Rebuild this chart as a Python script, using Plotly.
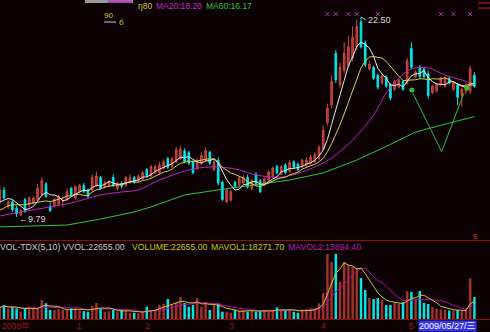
import plotly.graph_objects as go
import pandas as pd
import numpy as np

# ---------------- data ----------------
opens = [10.74, 11.51, 10.45, 10.75, 10.35, 9.92, 10.9, 10.55, 10.7, 10.9,
         11.2, 11.9, 10.45, 10.5, 10.6, 10.8, 10.9, 11.6, 11.0, 11.4,
         11.8, 11.5, 11.5, 11.8, 12.3, 11.7, 11.8, 12.3, 11.6, 11.9,
         11.8, 12.0, 12.3, 12.1, 12.2, 12.8, 12.4, 12.6, 12.6, 12.9,
         13.5, 13.0, 13.3, 13.5, 14.0, 13.9, 13.3, 12.9, 13.2, 13.4,
         13.9, 12.8, 13.4, 12.0, 10.75, 10.85, 12.0, 11.8, 11.95, 12.3,
         11.6, 12.5, 12.1, 11.85, 12.15, 12.35, 13.0, 12.5, 13.1, 12.7,
         13.3, 13.15, 13.0, 13.05, 13.2, 13.3, 13.5, 14.1, 15.8, 16.9,
         20.2, 18.2, 19.1, 19.4, 19.9, 20.6, 22.2, 20.85, 19.2, 19.3,
         18.8, 18.3, 18.7, 18.2, 17.9, 18.05, 18.4, 18.3, 20.5, 18.7,
         19.3, 19.2, 18.9, 17.7, 17.8, 18.2, 18.1, 18.6, 17.9, 18.2,
         17.5, 17.8, 17.8, 18.8]
highs = [11.8, 11.7, 10.9, 10.9, 10.5, 10.3, 11.0, 11.1, 11.1, 11.9,
         12.3, 12.0, 10.7, 11.0, 11.2, 11.1, 11.6, 11.7, 11.8, 11.9,
         11.95, 11.6, 12.5, 12.7, 12.4, 12.1, 12.15, 12.5, 12.0, 12.05,
         12.4, 12.5, 12.4, 12.5, 12.75, 12.9, 13.1, 13.1, 13.3, 13.45,
         13.6, 13.6, 14.25, 14.3, 14.15, 14.0, 13.4, 13.5, 13.9, 14.2,
         14.0, 13.5, 13.6, 12.1, 11.6, 11.5, 12.1, 12.35, 12.45, 12.5,
         12.2, 12.65, 12.2, 12.3, 12.75, 13.0, 13.1, 13.05, 13.2, 13.4,
         13.4, 13.25, 13.5, 13.6, 13.75, 13.9, 14.35, 15.6, 17.0, 18.8,
         20.4, 19.6, 20.9, 21.3, 21.9, 22.35, 22.50, 21.0, 19.7, 19.4,
         18.9, 18.9, 18.8, 18.3, 18.5, 18.6, 18.5, 19.9, 20.9, 19.1,
         19.45, 19.3, 19.1, 18.2, 18.3, 18.7, 18.75, 18.7, 18.4, 18.3,
         18.0, 18.3, 19.4, 19.0]
lows = [10.6, 10.9, 10.3, 10.1, 9.79, 9.85, 10.05, 10.4, 10.6, 10.8,
        11.1, 11.0, 10.1, 10.4, 10.5, 10.4, 10.8, 11.1, 10.9, 11.3,
        11.3, 11.0, 11.4, 11.7, 11.5, 11.6, 11.7, 11.7, 11.5, 11.6,
        11.7, 11.9, 11.9, 12.0, 12.1, 12.3, 12.3, 12.5, 12.5, 12.8,
        12.85, 12.9, 13.2, 13.4, 13.2, 13.1, 12.5, 12.8, 13.1, 13.3,
        13.1, 12.7, 11.8, 10.8, 10.7, 10.8, 11.6, 11.7, 11.85, 11.6,
        11.5, 11.8, 11.3, 11.75, 12.05, 12.3, 12.5, 12.45, 12.5, 12.6,
        12.85, 12.7, 12.9, 13.0, 13.1, 13.2, 13.4, 14.0, 15.6, 16.7,
        18.3, 18.0, 18.9, 19.3, 19.7, 20.4, 20.5, 19.3, 19.1, 18.5,
        17.9, 18.2, 18.0, 17.2, 17.8, 17.95, 17.8, 18.2, 19.2, 18.6,
        18.6, 18.6, 17.3, 17.6, 17.7, 18.1, 18.0, 18.2, 17.8, 16.9,
        16.8, 17.6, 17.6, 18.0]
closes = [11.51, 11.0, 10.74, 10.25, 9.98, 10.2, 10.15, 11.0, 11.0, 11.6,
          12.1, 11.1, 10.2, 10.9, 11.1, 10.82, 11.4, 11.2, 11.7, 11.8,
          11.4, 11.1, 12.3, 12.4, 11.6, 11.95, 12.0, 11.8, 11.95, 11.75,
          12.3, 12.3, 12.0, 12.4, 12.6, 12.4, 13.0, 13.0, 13.1, 13.3,
          12.95, 13.5, 14.05, 14.1, 13.3, 13.2, 12.6, 13.3, 13.7, 14.0,
          13.2, 13.3, 11.95, 10.9, 11.5, 11.4, 11.75, 12.25, 12.3, 11.7,
          12.1, 11.9, 11.4, 12.2, 12.65, 12.9, 12.6, 13.0, 12.6, 13.25,
          12.95, 12.8, 13.4, 13.4, 13.6, 13.75, 14.2, 15.3, 16.7, 18.4,
          18.5, 19.3, 20.2, 20.6, 21.2, 21.9, 20.6, 19.45, 19.5, 18.6,
          18.05, 18.8, 18.1, 17.35, 18.4, 18.5, 17.9, 19.7, 19.3, 19.0,
          18.7, 18.7, 17.5, 18.1, 18.2, 18.6, 18.6, 18.3, 18.3, 17.4,
          17.9, 18.2, 19.2, 18.1]
pre_closes = [9.4, 9.6, 9.5, 9.9, 10.1, 10.4, 10.2, 10.6, 11.0]
volumes = [12000, 14400, 11000, 12700, 11000, 7500, 11000, 12700, 11000, 11000,
           19500, 16200, 9300, 9300, 10000, 9300, 9300, 11000, 11000, 9300,
           8200, 7500, 13400, 16500, 11000, 7500, 8200, 9300, 7500, 9300,
           9300, 6500, 6500, 5900, 7500, 12700, 9300, 9300, 14400, 15500,
           20600, 14400, 16800, 22700, 16500, 12700, 14400, 21600, 12700, 17500,
           9300, 14400, 16000, 7500, 7500, 6500, 9300, 8500, 9300, 7500,
           8500, 7500, 8200, 9300, 7500, 9300, 12000, 9300, 9300, 9300,
           7500, 6500, 9300, 10000, 11000, 11000, 16000, 26800, 67000, 58700,
           67000, 38100, 58700, 55600, 53600, 52500, 42200, 29900, 21600, 20600,
           21600, 19600, 14400, 14400, 16500, 15500, 17500, 28800, 27800, 19600,
           28800, 16500, 15500, 12400, 10800, 9800, 9500, 8800, 8685, 9300,
           8200, 9300, 41904, 22655]

ma20_idx = [0, 5, 12, 17, 24, 29, 33, 38, 46, 52, 57, 61, 67, 72, 76, 79,
            84, 89, 92, 95, 98, 102, 106, 110, 113]
ma20_val = [9.85, 10.11, 10.43, 10.68, 11.19, 11.38, 11.51, 12.14, 12.84, 12.97,
            12.78, 12.46, 12.33, 12.65, 13.09, 13.54, 14.68, 16.27, 17.67, 18.62,
            19.20, 19.26, 18.81, 18.50, 18.20]
ma60_idx = [0, 16, 24, 32, 36, 44, 52, 60, 69, 77, 85, 93, 99, 107, 113]
ma60_val = [9.16, 9.28, 9.66, 10.11, 10.43, 11.19, 11.51, 11.82, 12.14, 12.59,
            13.41, 14.40, 15.19, 15.76, 16.17]

zig_idx = [98.3, 105.2, 110.5]
zig_val = [17.69, 13.94, 17.65]
blob_idx = [98.1, 111.2]
blob_val = [17.86, 17.99]
signal_idx = [78, 80, 83, 85, 90, 105, 108, 112]
month_idx = [18, 34, 54, 76, 97]
month_txt = ["1", "2", "3", "4", "5"]

# ---------------- derived ----------------
n = len(closes)
idx = list(range(n))
s = pd.Series(pre_closes + closes)
ma5 = s.rolling(5, min_periods=1).mean().iloc[len(pre_closes):].tolist()
ma10 = s.rolling(10, min_periods=1).mean().iloc[len(pre_closes):].tolist()
v = pd.Series(volumes)
mavol1 = v.rolling(5, min_periods=1).mean().tolist()
mavol2 = v.rolling(10, min_periods=1).mean().tolist()

RED_LINE = "#cc4a40"
RED_FILL = "#a0302a"
CYAN = "#00e6e6"
BG = "#0b0103"
FONT = "Liberation Sans, Arial, sans-serif"

W, H = 490, 332
x_rng = [(0 + 0.2) / 4.2, (W + 0.2) / 4.2]
y_rng = [8.328, 23.580]
v_top = 78280


def px(xp):
    return xp / W


def py(yp):
    return 1 - yp / H


vol_colors = [RED_FILL if c >= o else CYAN for o, c in zip(opens, closes)]

fig = go.Figure()
fig.add_trace(go.Candlestick(
    x=idx, open=opens, high=highs, low=lows, close=closes,
    increasing=dict(line=dict(color=RED_LINE, width=1), fillcolor=RED_FILL),
    decreasing=dict(line=dict(color=CYAN, width=1), fillcolor=CYAN),
    whiskerwidth=0, hoverinfo="skip", showlegend=False, xaxis="x", yaxis="y"))

line_kw = dict(mode="lines", hoverinfo="skip", showlegend=False, xaxis="x", yaxis="y")
fig.add_trace(go.Scatter(x=ma60_idx, y=ma60_val, line=dict(color="#2ec82e", width=1), **line_kw))
fig.add_trace(go.Scatter(x=ma20_idx, y=ma20_val, line=dict(color="#c020c8", width=1, shape="spline"), **line_kw))
fig.add_trace(go.Scatter(x=idx, y=ma10, line=dict(color="#d8d040", width=1), **line_kw))
fig.add_trace(go.Scatter(x=idx, y=ma5, line=dict(color="#e8e8e8", width=1), **line_kw))
fig.add_trace(go.Scatter(x=zig_idx, y=zig_val, line=dict(color="#30c030", width=1), **line_kw))
fig.add_trace(go.Scatter(x=blob_idx, y=blob_val, mode="markers",
                         marker=dict(color="#30c030", size=5), hoverinfo="skip",
                         showlegend=False, xaxis="x", yaxis="y"))
sig_level = y_rng[1] - (y_rng[1] - y_rng[0]) * 14 / 240
fig.add_trace(go.Scatter(x=signal_idx, y=[sig_level] * len(signal_idx), mode="markers",
                         marker=dict(symbol="x-thin-open", size=4, color="#a838b0",
                                     line=dict(color="#a838b0", width=1)),
                         hoverinfo="skip", showlegend=False, xaxis="x", yaxis="y"))

# volume panel
fig.add_trace(go.Bar(x=idx, y=volumes, marker=dict(color=vol_colors, line=dict(width=0)),
                     hoverinfo="skip", showlegend=False, xaxis="x2", yaxis="y2"))
fig.add_trace(go.Scatter(x=idx, y=mavol2, mode="lines", line=dict(color="#c000c0", width=1),
                         hoverinfo="skip", showlegend=False, xaxis="x2", yaxis="y2"))
fig.add_trace(go.Scatter(x=idx, y=mavol1, mode="lines", line=dict(color="#c8c830", width=1),
                         hoverinfo="skip", showlegend=False, xaxis="x2", yaxis="y2"))

ann = []


def txt(x, y, t, color, size=9, xanchor="left", yanchor="middle", **kw):
    d = dict(x=x, y=y, xref="paper", yref="paper", text=t, showarrow=False,
             xanchor=xanchor, yanchor=yanchor,
             font=dict(family=FONT, size=size, color=color))
    d.update(kw)
    ann.append(d)


# top header
txt(px(136), py(6), "ŋ80", "#d0c830", 8.5)
txt(px(154), py(6), "MA20:18.20", "#c030c8", 8.5)
txt(px(204), py(6), "MA60:16.17", "#30c030", 8.5)
txt(px(102), py(15), "90", "#d0c830", 8)
txt(px(117), py(22), "б", "#d0c830", 8)

# volume header
txt(px(-2), py(246.5), "VOL-TDX(5,10) VVOL:22655.00", "#c8c8c8", 8.7)
txt(px(130), py(246.5), "VOLUME:22655.00", "#c8c800", 8.7)
txt(px(209), py(246.5), "MAVOL1:18271.70", "#c8c800", 8.7)
txt(px(286), py(246.5), "MAVOL2:13894.40", "#b020b8", 8.7)
txt(px(471), py(236), "$", "#c03030", 8)

# bottom axis
txt(px(0), py(326), "2008年", "#a01818", 8.5)
for mi, mt in zip(month_idx, month_txt):
    ann.append(dict(x=mi, y=py(326), xref="x2", yref="paper", text=mt, showarrow=False,
                    xanchor="left", yanchor="middle",
                    font=dict(family=FONT, size=8.5, color="#a01818")))
ann.append(dict(x=px(418), y=py(332), xref="paper", yref="paper", text="2009/05/27/三",
                showarrow=False, xanchor="left", yanchor="bottom", bgcolor="#3434f0",
                borderpad=0,
                font=dict(family="Liberation Sans, Noto Sans CJK SC, sans-serif", size=9,
                          color="#ffffff")))

# high / low labels
jmax = int(np.argmax(highs))
jmin = int(np.argmin(lows))
ann.append(dict(x=jmax, y=highs[jmax], xref="x", yref="y", text=f"{highs[jmax]:.2f}",
                showarrow=True, arrowhead=0, arrowwidth=1, arrowcolor="#c0c0c0",
                ax=5, ay=3, xanchor="left", yanchor="middle", standoff=0,
                font=dict(family=FONT, size=9, color="#d8d8d8")))
ann.append(dict(x=jmin, y=lows[jmin], xref="x", yref="y", text=f"←{lows[jmin]:.2f}",
                showarrow=False, xanchor="left", yanchor="middle", yshift=-2,
                font=dict(family=FONT, size=9, color="#d8d8d8")))

shapes = [
    dict(type="line", xref="paper", yref="paper", x0=0, x1=1, y0=py(240.5), y1=py(240.5),
         line=dict(color="#900e0e", width=1)),
    dict(type="line", xref="paper", yref="paper", x0=0, x1=1, y0=py(319.5), y1=py(319.5),
         line=dict(color="#900e0e", width=1)),
    dict(type="rect", xref="paper", yref="paper", x0=px(85), x1=px(133), y0=py(3), y1=py(0),
         fillcolor="#9a9a9a", line=dict(width=0)),
    dict(type="rect", xref="paper", yref="paper", x0=px(108), x1=px(132), y0=py(3), y1=py(0.5),
         fillcolor="#b040b0", line=dict(width=0)),
    dict(type="line", xref="paper", yref="paper", x0=px(104), x1=px(116), y0=py(22), y1=py(22),
         line=dict(color="#c8c8c8", width=1)),
    dict(type="line", xref="paper", yref="paper", x0=px(478), x1=1, y0=py(3), y1=py(3),
         line=dict(color="#c02020", width=1)),
    dict(type="line", xref="paper", yref="paper", x0=px(478), x1=1, y0=py(8), y1=py(8),
         line=dict(color="#c02020", width=1)),
]

fig.update_layout(
    width=W, height=H, margin=dict(l=0, r=0, t=0, b=0, pad=0),
    paper_bgcolor=BG, plot_bgcolor=BG, showlegend=False,
    bargap=0.4, boxgap=0.45,
    xaxis=dict(domain=[0, 1], range=x_rng, visible=False, rangeslider=dict(visible=False),
               anchor="y", fixedrange=True),
    yaxis=dict(domain=[py(240), 1], range=y_rng, visible=False, anchor="x", fixedrange=True),
    xaxis2=dict(domain=[0, 1], range=x_rng, visible=False, anchor="y2", fixedrange=True),
    yaxis2=dict(domain=[py(319), py(243)], range=[0, v_top], visible=False, anchor="x2",
                fixedrange=True),
    annotations=ann, shapes=shapes,
)

fig.write_html("out.html", config=dict(displayModeBar=False))
